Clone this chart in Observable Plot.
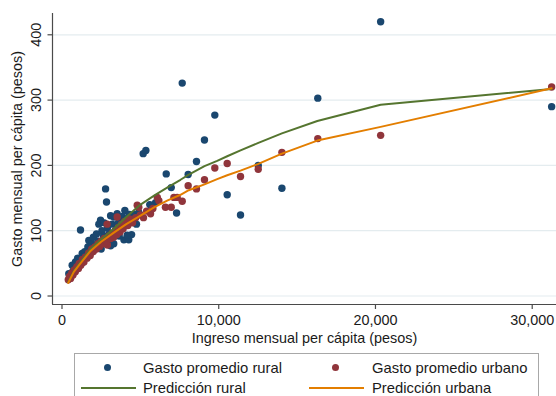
<!DOCTYPE html>
<html><head><meta charset="utf-8">
<script src="https://cdn.jsdelivr.net/npm/d3@7"></script>
<script src="https://cdn.jsdelivr.net/npm/@observablehq/plot@0.6"></script>
<style>
body{margin:0;background:#fff;font-family:"Liberation Sans",Arial,sans-serif;}
#wrap{position:relative;width:556px;height:396px;overflow:hidden;background:#fff;}
#legend{position:absolute;left:74px;top:353px;width:465px;height:60px;border:1px solid #a8a8a8;box-sizing:border-box;font-size:14.8px;color:#1a1a1a;}
.txt{position:absolute;line-height:20px;height:20px;white-space:nowrap;}
.dot{position:absolute;width:7px;height:7px;border-radius:50%;}
.ln{position:absolute;height:2px;width:55px;}
</style>
</head><body>
<div id="wrap"><div id="chart"></div>
<div id="legend">
  <span class="dot" style="left:29px;top:10px;background:#1a476f"></span>
  <span class="txt" style="left:68px;top:4px">Gasto promedio rural</span>
  <span class="dot" style="left:257px;top:10px;background:#90353b"></span>
  <span class="txt" style="left:297px;top:4px">Gasto promedio urbano</span>
  <span class="ln" style="left:6px;top:33px;background:#55752f"></span>
  <span class="txt" style="left:68px;top:24px">Predicción rural</span>
  <span class="ln" style="left:234px;top:33px;background:#e37e00"></span>
  <span class="txt" style="left:297px;top:24px">Predicción urbana</span>
</div>
</div>
<script>
// Gasto promedio rural (x = ingreso, y = gasto)
const ruralX = [1180,2780,2840,2460,3100,3310,3520,4010,4750,3950,4260,4440,3100,5180,5350,5970,6650,6970,7310,7670,8050,8580,9090,9750,10540,11390,12520,14030,16320,20330,31240,
  434,520,650,700,860,900,1000,1050,1150,1290,1350,1450,1550,1710,1650,1800,1900,2000,2100,2200,2300,2350,2550,2650,2700,2900,3000,3200,3400,3600,3700,3850,4150,4300,4600,5600,4900,1250,800,600,2500,3300,3650,2950,4160];
const ruralY = [101,164,144,116,123,121,126,131,110,86,86,94,77,218,223,143,187,166,127,326,186,206,239,277,155,124,200,165,303,420,290,
  34,28,47,38,52,44,58,48,55,65,60,68,62,85,75,72,80,90,76,95,84,110,100,92,112,104,95,110,100,112,118,122,118,125,125,140,128,50,40,32,72,80,92,84,93];
// Gasto promedio urbano
const urbanX = [400,480,550,620,700,780,850,950,1050,1100,1200,1300,1400,1500,1600,1700,1800,1900,2000,2100,2200,2300,2400,2500,2600,2700,2800,2880,2900,3000,3100,3200,3300,3400,3500,3520,3600,3700,3800,3900,4000,4200,4300,4500,4700,4800,4900,5000,5200,5400,5650,5800,6080,6180,6600,6970,7140,7350,7670,8050,8580,9090,9750,10540,11390,12520,14030,16320,20330,31240];
const urbanY = [25,30,27,35,32,40,37,45,42,50,47,56,52,60,58,66,62,72,68,75,72,80,76,84,80,88,84,110,78,92,88,96,90,100,94,121,105,98,110,103,114,108,118,112,120,139,136,124,120,130,126,134,151,146,136,136,151,151,145,169,164,178,196,203,183,194,220,241,246,320];
// Predicciones
const predX = [395,755,1180,1820,2500,3310,4100,5010,5900,6710,7560,8090,9090,9900,10540,11390,12490,14030,16290,20330,31240];
const predRuralY = [21,38,52,72,87,103,121,140,154,166,178,186,199,207,214,223,234,249,268,293,317];
const predUrbanY = [20,37,50,69,83,97,110,123,136,146,155,162,171,179,185,192,202,218,238,259,318];
// Ticks
const xTicks = [0,10000,20000,30000];
const yTicks = [0,100,200,300,400];
const xLabel = "Ingreso mensual per cápita (pesos)";
const yLabel = "Gasto mensual per cápita (pesos)";

const rural = ruralX.map((x,i)=>({x, y: ruralY[i]}));
const urban = urbanX.map((x,i)=>({x, y: urbanY[i]}));
const predRural = predX.map((x,i)=>({x, y: predRuralY[i]}));
const predUrban = predX.map((x,i)=>({x, y: predUrbanY[i]}));

const xDomain = [-606, 31550];
const yDomain = [-13, 432.6];
const axisColor = "#4a4a4a";

const chart = Plot.plot({
  width: 556, height: 346,
  marginLeft: 52, marginRight: 0, marginTop: 13, marginBottom: 42,
  x: {domain: xDomain},
  y: {domain: yDomain},
  style: {fontFamily: "'Liberation Sans', Arial, sans-serif", fontSize: "14.4px", color: "#1a1a1a", background: "#fff"},
  marks: [
    Plot.gridY(yTicks, {stroke: "#e4ecef", strokeOpacity: 1, strokeWidth: 1.2}),
    Plot.ruleX([xDomain[0]], {stroke: axisColor, strokeWidth: 1.2}),
    Plot.ruleY([yDomain[0]], {stroke: axisColor, strokeWidth: 1.2}),
    Plot.axisY(yTicks, {tickSize: 4.5, tickRotate: -90, tickPadding: 7.5, stroke: axisColor, strokeWidth: 1.2,
      label: yLabel, labelAnchor: "center", labelArrow: "none", labelOffset: 41}),
    Plot.axisX(xTicks, {tickSize: 5, tickPadding: 5, tickFormat: d3.format(","), stroke: axisColor, strokeWidth: 1.2,
      label: xLabel, labelAnchor: "center", labelArrow: "none", labelOffset: 38}),
    Plot.dot(rural, {x: "x", y: "y", r: 3.7, fill: "#1a476f", stroke: null}),
    Plot.dot(urban, {x: "x", y: "y", r: 3.7, fill: "#90353b", stroke: null}),
    Plot.line(predRural, {x: "x", y: "y", stroke: "#55752f", strokeWidth: 2}),
    Plot.line(predUrban, {x: "x", y: "y", stroke: "#e37e00", strokeWidth: 2})
  ]
});
document.getElementById("chart").appendChild(chart);
</script>
</body></html>
